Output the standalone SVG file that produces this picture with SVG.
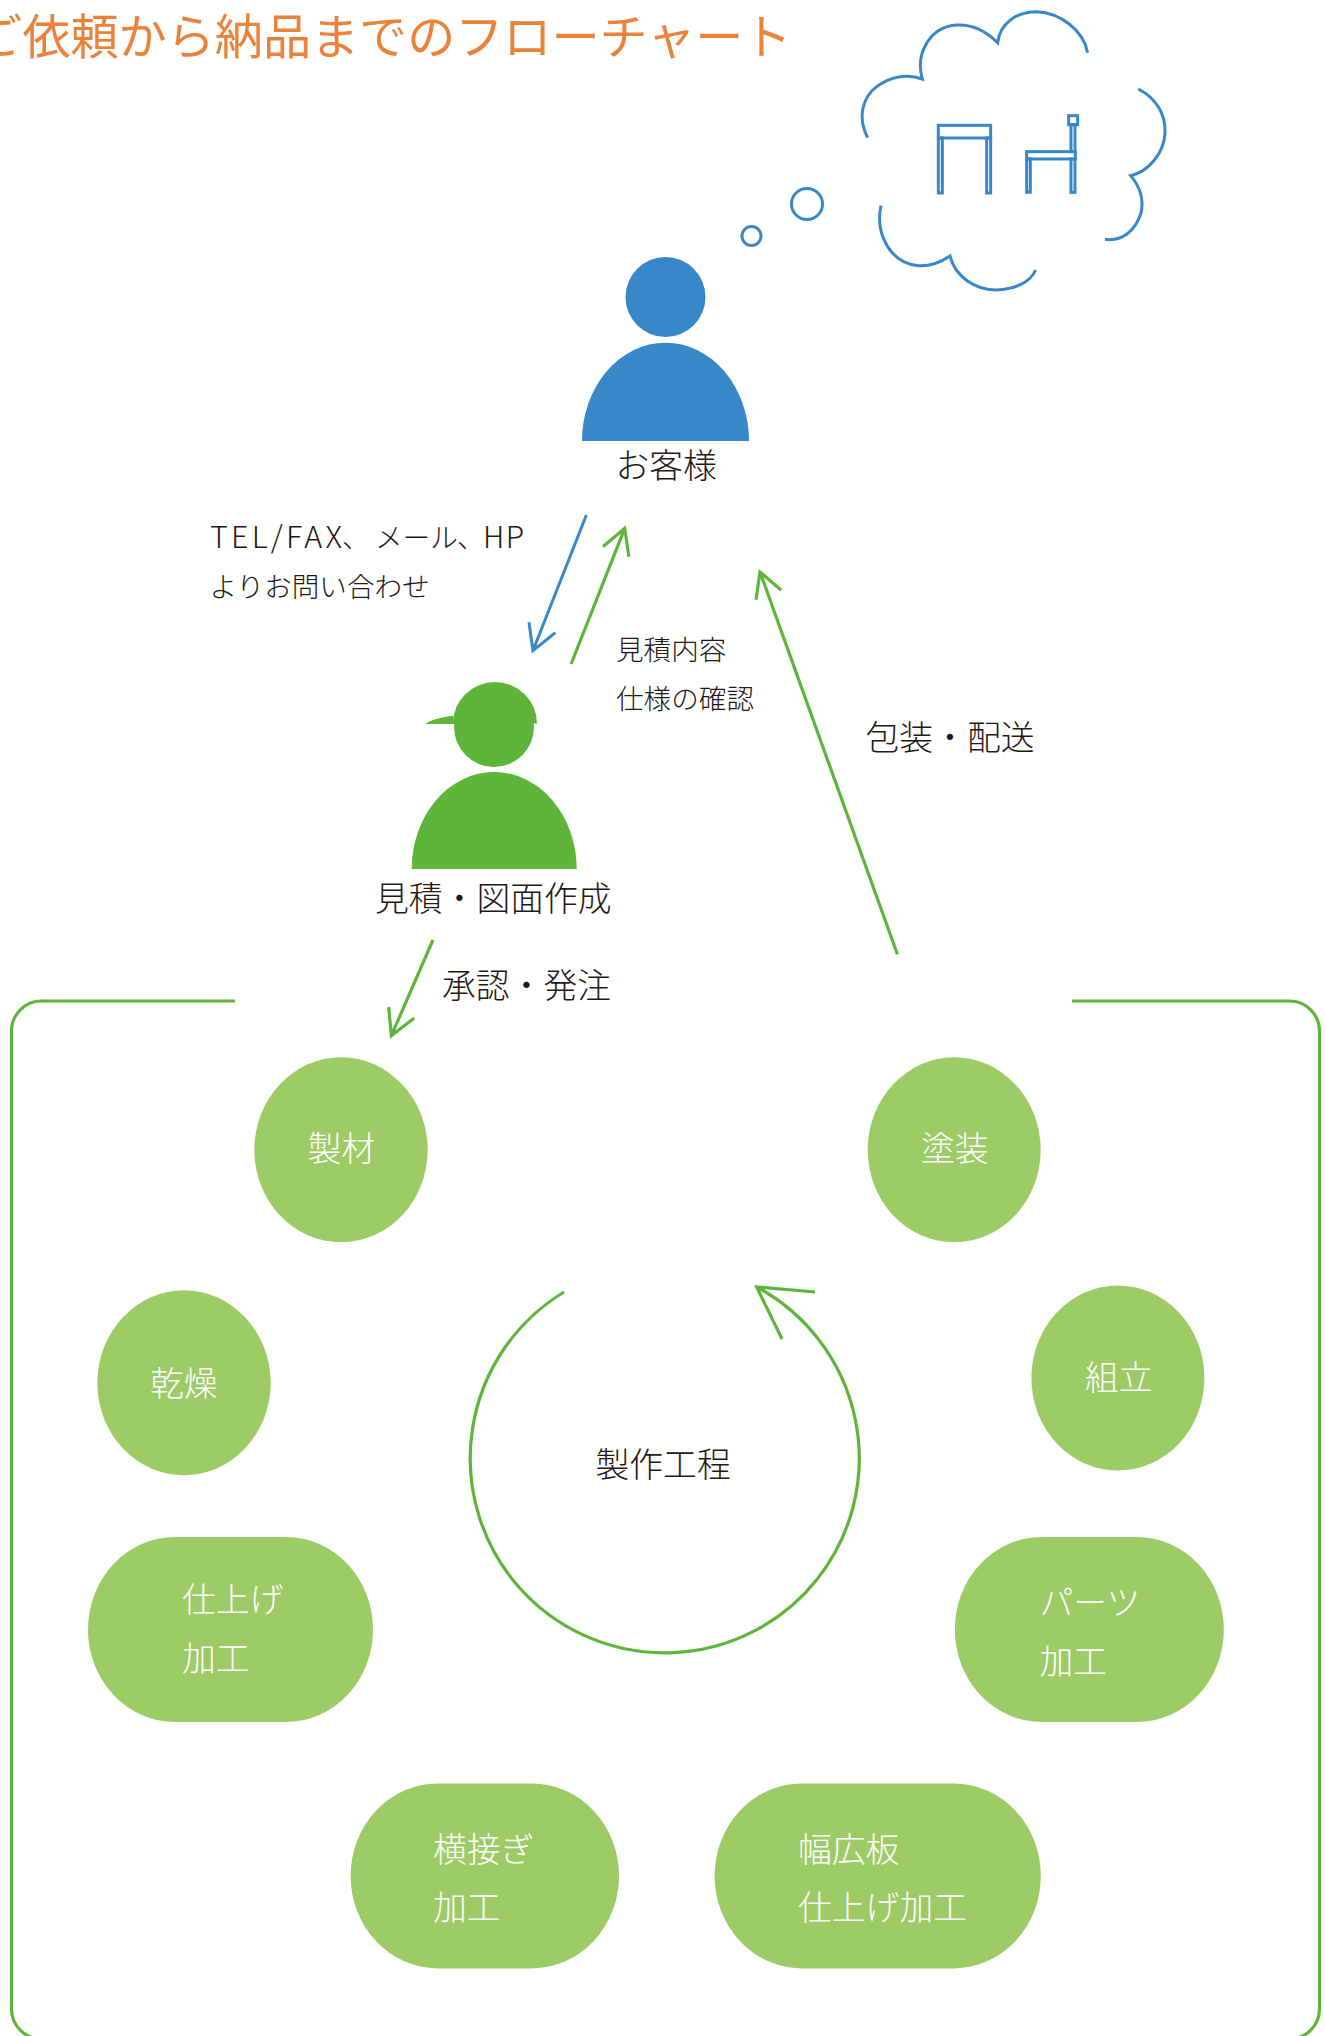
<svg xmlns="http://www.w3.org/2000/svg" width="1325" height="2036" viewBox="0 0 1325 2036">
<style>
text{font-family:"Noto Sans CJK JP","Noto Sans",sans-serif;font-weight:300;fill:#231815}
.w{fill:#fff;font-size:33.8px}
.k{font-size:33.8px}
.s{font-size:27.6px}
.n{fill:#9dcc66}
.bl{fill:none;stroke:#3787c9;stroke-width:3}
.gl{fill:none;stroke:#5fb53a;stroke-width:3.2}
</style>
<rect width="1325" height="2036" fill="#fff"/>
<text id="title" x="-25.7" y="54" style="font-size:48.1px;font-weight:400;fill:#ea8239">ご依頼から納品までのフローチャート</text>
<g id="thought">
<g class="bl" transform="translate(840 0) scale(.3333)" style="stroke-width:9">
<path d="M83,413 C50,350 70,290 110,260 C150,230 200,220 247,237 C225,160 270,80 350,75 C400,72 440,95 473,128 C480,70 530,35 590,35 C660,38 730,90 743,158"/>
<path d="M895,267 C950,295 978,345 975,400 C972,460 925,515 872,527 C900,560 912,600 903,640 C885,695 845,725 795,718"/>
<path d="M123,617 C105,700 150,790 235,797 C270,799 305,785 330,768 C345,830 405,870 470,870 C520,868 570,850 587,810"/>
<rect x="295" y="376" width="157" height="38"/>
<rect x="295" y="414" width="12" height="165"/>
<rect x="440" y="414" width="12" height="165"/>
<rect x="560" y="455" width="146" height="22"/>
<rect x="560" y="477" width="11" height="100"/>
<rect x="693" y="477" width="12" height="100"/>
<rect x="693" y="374" width="12" height="81"/>
<rect x="686" y="347" width="27" height="27"/>
</g>
<circle class="bl" cx="807" cy="204" r="15.5"/>
<circle class="bl" cx="751.5" cy="236" r="9.5"/>
</g>
<g id="customer">
<circle cx="665.5" cy="297" r="40" fill="#3787c9"/>
<path d="M582,441 A83.5,98.3 0 0 1 749,441 Z" fill="#3787c9"/>
<text class="k" x="615.5" y="478">お客様</text>
</g>
<g id="estimator">
<circle cx="494" cy="727" r="40" fill="#5fb53a"/>
<path d="M453,723.5 A42,41.5 0 0 1 537,723.5 Z" fill="#5fb53a"/>
<path d="M425.7,724 Q430,719 453,715.7 L455,724 Z" fill="#5fb53a"/>
<path d="M411.7,869 A82.5,97 0 0 1 576.7,869 Z" fill="#5fb53a"/>
<text class="k" x="375" y="911">見積・図面作成</text>
</g>
<g id="labels">
<text class="s" x="210" y="548"><tspan style="font-size:30.5px" letter-spacing="3.2">TEL/FAX</tspan><tspan x="342">、</tspan><tspan x="375">メール</tspan><tspan x="457">、</tspan><tspan x="483" style="font-size:30px" letter-spacing="1.5">HP</tspan></text>
<text class="s" x="209.5" y="597">よりお問い合わせ</text>
<text class="s" x="616" y="660">見積内容</text>
<text class="s" x="616" y="709">仕様の確認</text>
<text class="k" x="865.5" y="750">包装・配送</text>
<text class="k" x="442" y="998">承認・発注</text>
<text class="k" x="595.5" y="1477">製作工程</text>
</g>
<g id="connectors">
<path class="bl" d="M586.4,515 L532.9,650.7 M529,622.3 L532.9,650.7 L555.4,632.7"/>
<path class="gl" d="M571.1,664 L624.7,528.3 M602.9,546.7 L624.7,528.3 L628.9,556.7"/>
<path class="gl" d="M897.4,954.3 L760,572 M756,599.7 L760,572 L781.2,590.3"/>
<path class="gl" d="M433,940 L391.3,1035.7 M388.7,1007 L391.3,1035.7 L414.3,1018"/>
<path class="gl" d="M564,1292 A194.5,194.5 0 1 0 756.7,1287 M815,1292 L756.7,1287 L782,1339"/>
<path class="gl" d="M235,1001 H41.5 A30,30 0 0 0 11.5,1031 V2009 A30,30 0 0 0 41.5,2039 H1289.5 A30,30 0 0 0 1319.5,2009 V1031 A30,30 0 0 0 1289.5,1001 H1072"/>
</g>
<g id="n-seizai"><rect class="n" x="254.3" y="1057.3" width="173.4" height="185" rx="86.7" ry="92.5"/><text class="w" x="307.5" y="1161">製材</text></g>
<g id="n-kanso"><rect class="n" x="97.3" y="1290.3" width="173.4" height="185" rx="86.7" ry="92.5"/><text class="w" x="150" y="1396">乾燥</text></g>
<g id="n-shiage"><rect class="n" x="88" y="1537" width="285" height="185" rx="87" ry="92.5"/><text class="w" x="182" y="1612">仕上げ</text><text class="w" x="182" y="1670.5">加工</text></g>
<g id="n-yokotsugi"><rect class="n" x="350.6" y="1783.4" width="268.4" height="185" rx="87" ry="92.5"/><text class="w" x="433" y="1862">横接ぎ</text><text class="w" x="433" y="1920">加工</text></g>
<g id="n-habahiro"><rect class="n" x="714.6" y="1783.4" width="326.2" height="185" rx="87" ry="92.5"/><text class="w" x="798" y="1862">幅広板</text><text class="w" x="798" y="1920">仕上げ加工</text></g>
<g id="n-parts"><rect class="n" x="954.8" y="1537" width="269" height="185" rx="87" ry="92.5"/><text class="w" x="1039.5" y="1615">パーツ</text><text class="w" x="1039.5" y="1673.5">加工</text></g>
<g id="n-kumitate"><rect class="n" x="1031.4" y="1285.5" width="173" height="185" rx="86.5" ry="92.5"/><text class="w" x="1085" y="1390">組立</text></g>
<g id="n-tosou"><rect class="n" x="867.7" y="1057.3" width="173" height="185" rx="86.5" ry="92.5"/><text class="w" x="921" y="1161">塗装</text></g>
</svg>
